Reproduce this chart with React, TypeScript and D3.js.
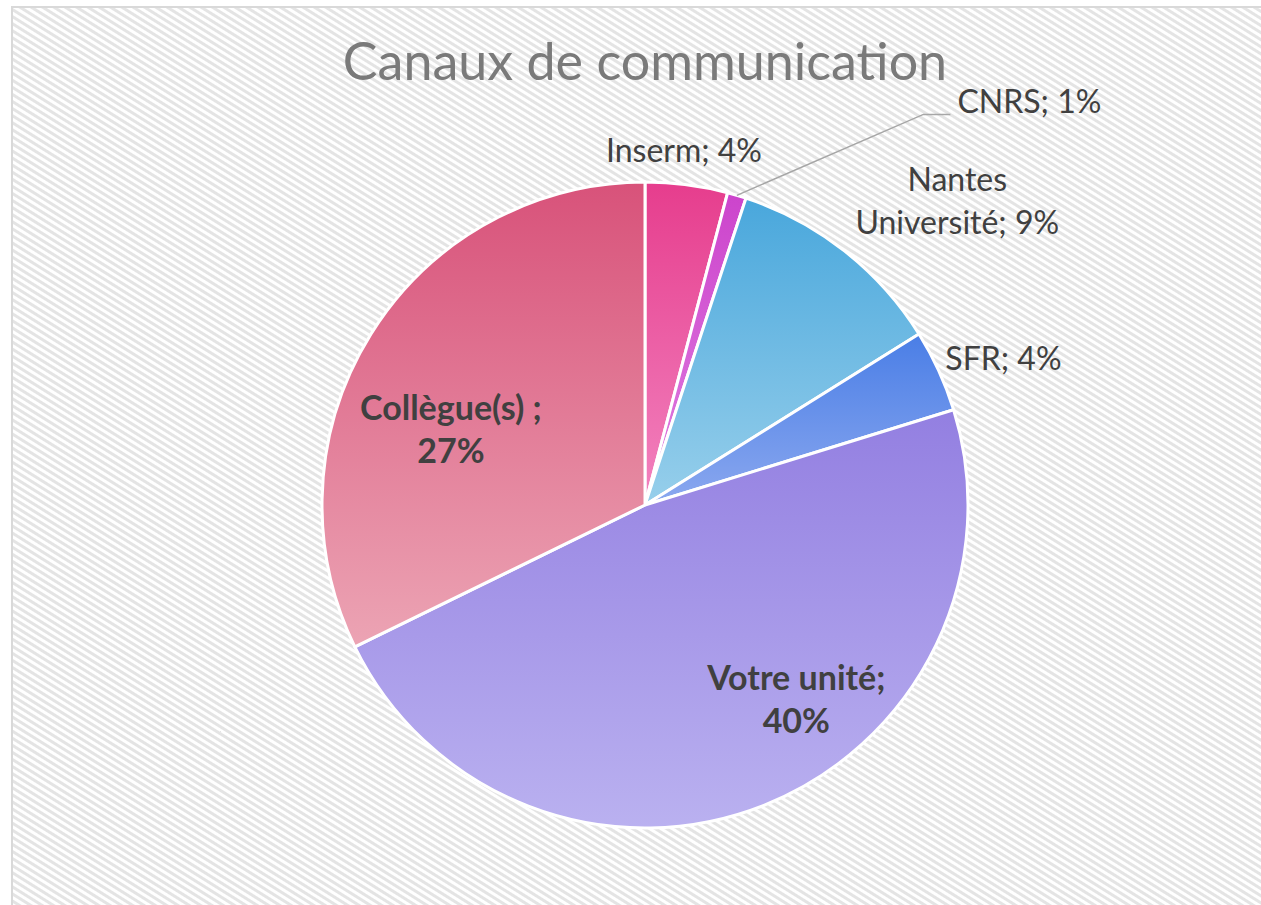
import React from "react";
import * as d3 from "d3";

const categories = ["Inserm", "CNRS", "Nantes Université", "SFR", "Votre unité", "Collègue(s)"];
const values = [3.5, 0.8, 9.4, 3.5, 40.4, 27.4];
const labelLines = [
  ["Inserm; 4%"],
  ["CNRS; 1%"],
  ["Nantes", "Université; 9%"],
  ["SFR; 4%"],
  ["Votre unité;", "40%"],
  ["Collègue(s) ;", "27%"],
];
const title = "Canaux de communication";

const topColors = ["#e63d8d", "#cc44cc", "#49a7dc", "#4a7ee6", "#937fe1", "#d8527a"];
const bottomColors = ["#f283bf", "#e07fe0", "#97cfeb", "#8ba8ef", "#bab1f0", "#eca4b4"];

// label layout: radius factor along mid-angle, offsets, anchor, bold
const labelLayout = [
  { f: 1.08, dx: -6, dy: 3, anchor: "middle", bold: false },
  { f: 1.3, dx: 193, dy: 11, anchor: "start", bold: false, leader: true },
  { f: 1.15, dx: 83, dy: -22, anchor: "middle", bold: false },
  { f: 1.08, dx: -17, dy: 10, anchor: "start", bold: false },
  { f: 0.65, dx: 74, dy: -10, anchor: "middle", bold: true },
  { f: 0.65, dx: -16, dy: 26, anchor: "middle", bold: true },
];

export default function App() {
  const W = 1261, H = 905;
  const cx = 645, cy = 505, r = 323;
  const pie = d3.pie<number>().sort(null).value((d) => d);
  const arcs = pie(values);
  const arcGen = d3.arc<d3.PieArcDatum<number>>().innerRadius(0).outerRadius(r);
  const font = "Lato, 'Open Sans', sans-serif";

  const polar = (a: number, R: number) => [cx + R * Math.sin(a), cy - R * Math.cos(a)];

  return (
    <svg width={W} height={H} style={{ position: "absolute", left: 0, top: 0 }}>
      <defs>
        <pattern id="bg" width="12" height="6" patternUnits="userSpaceOnUse" patternTransform="rotate(32)">
          <rect width="12" height="6" fill="#ffffff" />
          <rect width="12" height="3" fill="#e4e4e4" />
        </pattern>
        {arcs.map((a, i) => (
          <linearGradient key={i} id={`g${i}`} x1="0" y1="0" x2="0" y2="1">
            <stop offset="0" stopColor={topColors[i]} />
            <stop offset="1" stopColor={bottomColors[i]} />
          </linearGradient>
        ))}
      </defs>
      <rect x={0} y={0} width={W} height={H} fill="#fff" />
      <rect x={12} y={7} width={W + 20} height={H + 20} fill="url(#bg)" stroke="#d9d9d9" strokeWidth={2} />
      <text x={cx} y={80} textAnchor="middle" fontFamily={font} fontSize={52} fill="#7a7a7a">
        {title}
      </text>
      <g transform={`translate(${cx},${cy})`}>
        {arcs.map((a, i) => (
          <path key={categories[i]} d={arcGen(a) || ""} fill={`url(#g${i})`} stroke="#fff" strokeWidth={3} strokeLinejoin="round" />
        ))}
      </g>
      {arcs.map((a, i) => {
        const L = labelLayout[i];
        const mid = (a.startAngle + a.endAngle) / 2;
        const [px, py] = polar(mid, r * L.f);
        const tx = px + L.dx, ty = py + L.dy;
        const lines = labelLines[i];
        let leader = null;
        if (L.leader) {
          const [ex, ey] = polar(mid, r);
          leader = (
            <polyline
              points={`${ex},${ey} ${tx - 34},${ty + 1} ${tx - 7},${ty + 1}`}
              fill="none"
              stroke="#a6a6a6"
              strokeWidth={1.5}
            />
          );
        }
        return (
          <g key={i}>
            {leader}
            <text
              x={tx}
              y={ty}
              textAnchor={L.anchor}
              fontFamily={font}
              fontSize={L.bold ? 34 : 32}
              fontWeight={L.bold ? 700 : 400}
              fill="#404040"
            >
              {lines.map((t, j) => (
                <tspan key={j} x={tx} dy={j === 0 ? 0 : 43}>
                  {t}
                </tspan>
              ))}
            </text>
          </g>
        );
      })}
    </svg>
  );
}
